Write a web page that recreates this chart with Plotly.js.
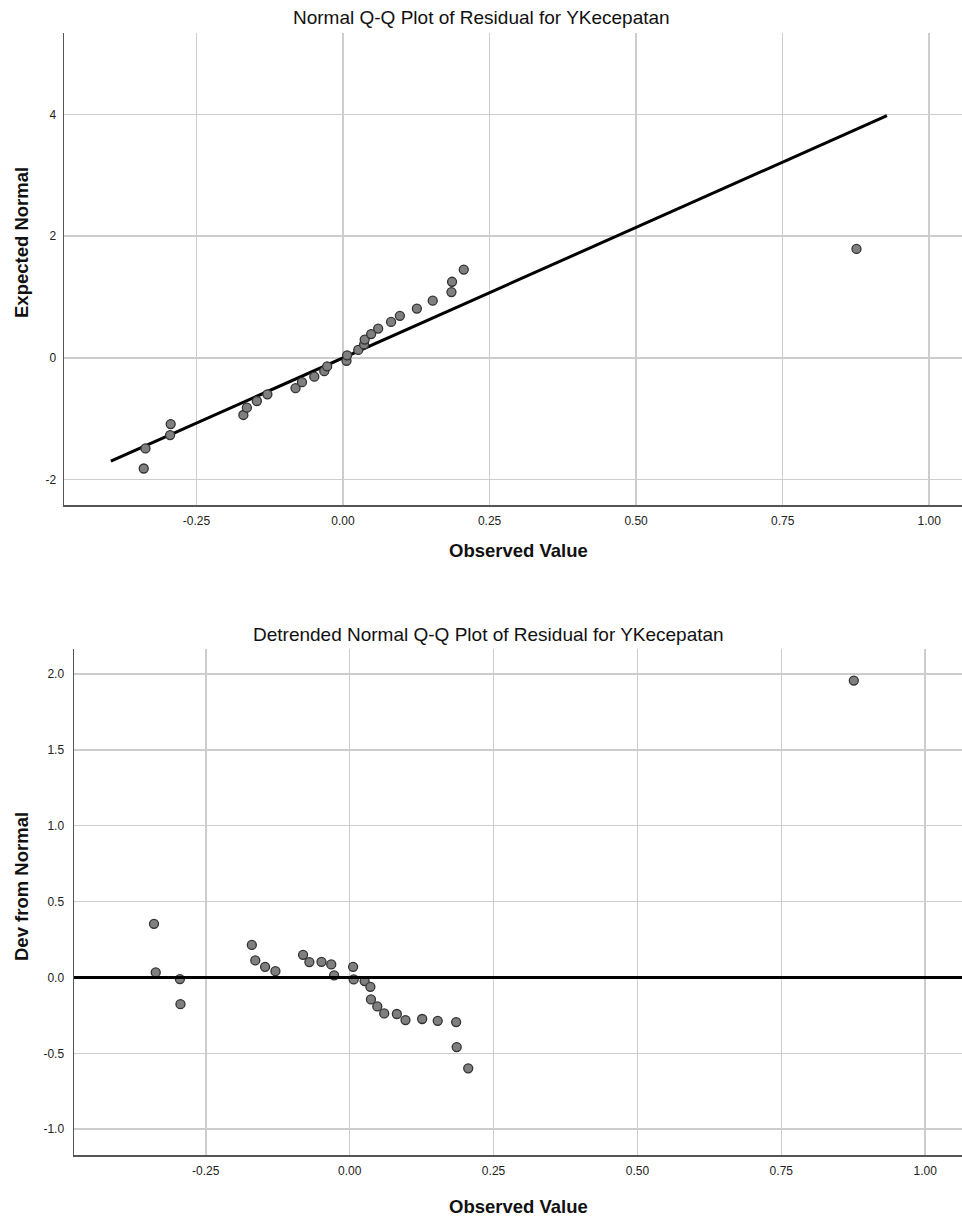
<!DOCTYPE html>
<html>
<head>
<meta charset="utf-8">
<script src="https://cdn.plot.ly/plotly-3.0.1.min.js"></script>
<style>
  html, body { margin: 0; padding: 0; background: #ffffff; }
  #chart { width: 962px; height: 1220px; }
</style>
</head>
<body>
<div id="chart"></div>
<script>
// Observed residual values (shared by both plots)
const observedValue = [-0.340, -0.337, -0.295, -0.294, -0.170, -0.164, -0.147, -0.129, -0.081, -0.070,
  -0.049, -0.032, -0.027, 0.006, 0.007, 0.026, 0.036, 0.037, 0.048, 0.060,
  0.082, 0.097, 0.126, 0.153, 0.185, 0.186, 0.206, 0.876];
// Expected normal quantiles (top plot)
const expectedNormal = [-1.82, -1.49, -1.27, -1.09, -0.94, -0.82, -0.71, -0.60, -0.50, -0.40,
  -0.31, -0.22, -0.14, -0.05, 0.04, 0.13, 0.22, 0.30, 0.39, 0.48,
  0.59, 0.69, 0.81, 0.94, 1.08, 1.25, 1.45, 1.79];
// Deviation from normal (bottom plot)
const devFromNormal = [0.353, 0.033, -0.011, -0.176, 0.214, 0.112, 0.070, 0.041, 0.149, 0.101,
  0.103, 0.086, 0.013, 0.070, -0.013, -0.024, -0.062, -0.145, -0.191, -0.237,
  -0.241, -0.281, -0.274, -0.286, -0.294, -0.459, -0.599, 1.956];
// Reference line of the normal Q-Q plot (end points)
const refLineX = [-0.396, 0.928];
const refLineY = [-1.70, 3.98];
// Tick values / labels
const xTickVals = [-0.25, 0, 0.25, 0.5, 0.75, 1.0];
const xTickText = ["-0.25", "0.00", "0.25", "0.50", "0.75", "1.00"];
const yTopTickVals = [-2, 0, 2, 4];
const yTopTickText = ["-2", "0", "2", "4"];
const yBotTickVals = [-1.0, -0.5, 0, 0.5, 1.0, 1.5, 2.0];
const yBotTickText = ["-1.0", "-0.5", "0.0", "0.5", "1.0", "1.5", "2.0"];
// Titles
const topTitle = "Normal Q-Q Plot of Residual for YKecepatan";
const botTitle = "Detrended Normal Q-Q Plot of Residual for YKecepatan";
const xTitle = "Observed Value";
const yTopTitle = "Expected Normal";
const yBotTitle = "Dev from Normal";

const W = 962, H = 1220;
const px = v => v / W;
const py = v => 1 - v / H;

const FONT = "Liberation Sans, Arial, sans-serif";
const markerStyle = { size: 9, color: "#7f7f7f", line: { color: "#333333", width: 1.3 } };

const traces = [
  { type: "scatter", mode: "lines", x: refLineX, y: refLineY, xaxis: "x", yaxis: "y",
    line: { color: "#000000", width: 3 }, hoverinfo: "skip" },
  { type: "scatter", mode: "markers", x: observedValue, y: expectedNormal, xaxis: "x", yaxis: "y",
    marker: markerStyle },
  { type: "scatter", mode: "markers", x: observedValue, y: devFromNormal, xaxis: "x2", yaxis: "y2",
    marker: markerStyle }
];

const gridCol = "#cdcdcd";
const axisCommon = {
  showgrid: true, gridcolor: gridCol, gridwidth: 1.5, zeroline: false,
  showline: true, linecolor: "#555555", linewidth: 1.5, ticks: "",
  tickfont: { family: FONT, size: 12, color: "#222222" },
  tickmode: "array", automargin: false, fixedrange: true
};

const titleFont = { family: FONT, size: 19, color: "#111111" };
const axTitleFont = { family: FONT, size: 18.5, color: "#111111" };

const layout = {
  width: W, height: H,
  margin: { l: 0, r: 0, t: 0, b: 0 },
  paper_bgcolor: "#ffffff", plot_bgcolor: "#ffffff",
  showlegend: false,
  xaxis: Object.assign({}, axisCommon, {
    domain: [px(64), 1], range: [-0.476, 1.056], anchor: "y",
    tickvals: xTickVals, ticktext: xTickText, ticklabelstandoff: 4
  }),
  yaxis: Object.assign({}, axisCommon, {
    domain: [py(505), py(33)], range: [-2.42, 5.34], anchor: "x",
    tickvals: yTopTickVals, ticktext: yTopTickText, ticklabelstandoff: 4
  }),
  xaxis2: Object.assign({}, axisCommon, {
    domain: [px(74), 1], range: [-0.479, 1.064], anchor: "y2",
    tickvals: xTickVals, ticktext: xTickText, ticklabelstandoff: 4
  }),
  yaxis2: Object.assign({}, axisCommon, {
    domain: [py(1155), py(649)], range: [-1.17, 2.164], anchor: "x2",
    tickvals: yBotTickVals, ticktext: yBotTickText, ticklabelstandoff: 6
  }),
  shapes: [
    { type: "line", xref: "x2 domain", yref: "y2", x0: 0, x1: 1, y0: 0, y1: 0,
      line: { color: "#000000", width: 3 }, layer: "above" }
  ],
  annotations: [
    { text: topTitle, xref: "paper", yref: "paper", x: px(481.5), y: py(17), showarrow: false,
      xanchor: "center", yanchor: "middle", font: titleFont },
    { text: botTitle, xref: "paper", yref: "paper", x: px(488), y: py(634), showarrow: false,
      xanchor: "center", yanchor: "middle", font: titleFont },
    { text: "<b>" + xTitle + "</b>", xref: "paper", yref: "paper", x: px(518), y: py(551), showarrow: false,
      xanchor: "center", yanchor: "middle", font: axTitleFont },
    { text: "<b>" + xTitle + "</b>", xref: "paper", yref: "paper", x: px(518), y: py(1206), showarrow: false,
      xanchor: "center", yanchor: "middle", font: axTitleFont },
    { text: "<b>" + yTopTitle + "</b>", xref: "paper", yref: "paper", x: px(22), y: py(243), showarrow: false,
      textangle: -90, xanchor: "center", yanchor: "middle", font: axTitleFont },
    { text: "<b>" + yBotTitle + "</b>", xref: "paper", yref: "paper", x: px(22), y: py(887), showarrow: false,
      textangle: -90, xanchor: "center", yanchor: "middle", font: axTitleFont }
  ]
};

Plotly.newPlot("chart", traces, layout, { displayModeBar: false, staticPlot: true });
</script>
</body>
</html>
